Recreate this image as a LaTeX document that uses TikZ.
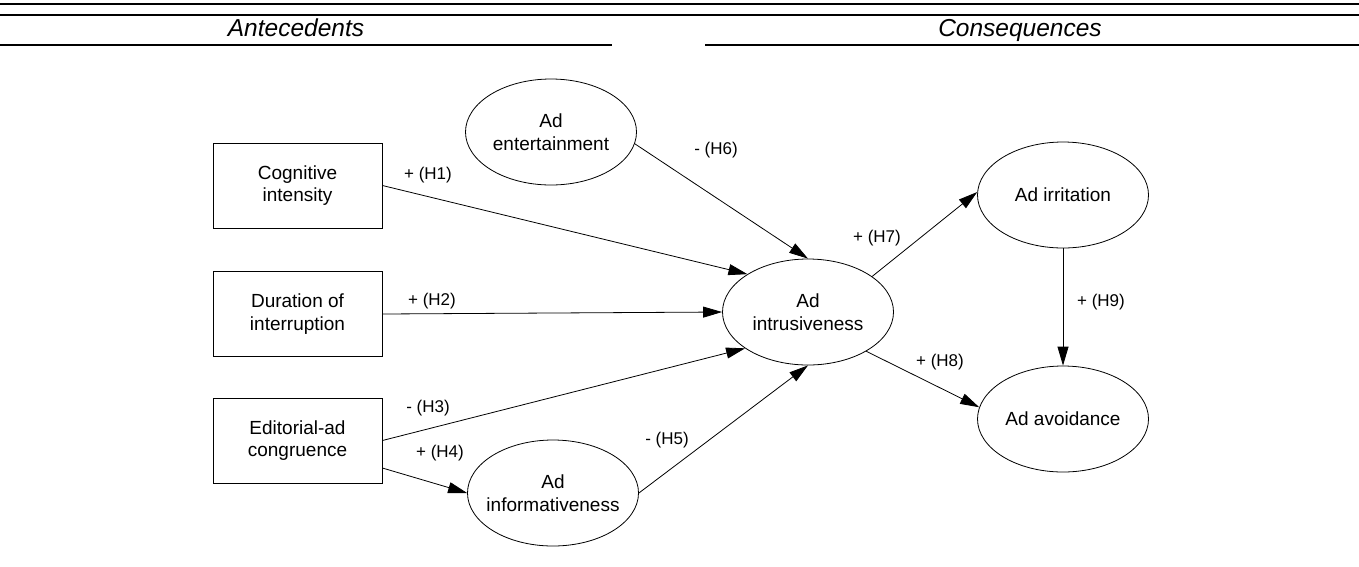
\documentclass[tikz,border=0pt]{standalone}
\usepackage{fontspec}
\setmainfont{Liberation Sans}
\usetikzlibrary{shapes.geometric,arrows.meta}
\begin{document}
\begin{tikzpicture}[x=1pt,y=-1pt,
  box/.style={draw,line width=0.8pt,minimum width=169pt,minimum height=85pt,inner sep=0pt,align=center,font=\fontsize{19}{22.5}\selectfont},
  ell/.style={draw,ellipse,line width=0.8pt,minimum width=171pt,minimum height=106pt,inner xsep=-10pt,inner ysep=0pt,align=center,font=\fontsize{19}{22.5}\selectfont},
  lab/.style={font=\fontsize{17}{20}\selectfont,inner sep=0pt},
  head/.style={font=\fontsize{24.5}{28}\selectfont\itshape,inner sep=0pt,anchor=base},
  arr/.style={line width=0.8pt,-{Triangle[length=19pt,width=11pt]}},
  rulethick/.style={line width=1.8pt},
  rulethin/.style={line width=1.2pt}]
\useasboundingbox (0,0) rectangle (1359,566);

% header rules
\draw[rulethick] (0,4) -- (1359,4);
\draw[rulethick] (0,15) -- (1359,15);
\draw[rulethin] (0,45) -- (612,45);
\draw[rulethin] (705,45) -- (1359,45);
\node[head] (hA) at (296,36) {Antecedents};
\node[head] (hC) at (1020,36) {Consequences};

% boxes
\node[box] (cog)  at (297.5,185.5) {Cognitive\\intensity};
\node[box] (dur)  at (297.5,314)   {Duration of\\interruption};
\node[box] (edit) at (297.5,440.5) {Editorial-ad\\congruence};

% ellipses
\node[ell] (ent)   at (551,132)  {Ad\\entertainment};
\node[ell] (intr)  at (808,312)  {Ad\\intrusiveness};
\node[ell] (info)  at (553,493)  {Ad\\informativeness};
\node[ell] (irr)   at (1063,195) {Ad irritation};
\node[ell] (avoid) at (1063,419) {Ad avoidance};

% connectors
\draw[arr] (cog.east) -- (intr.148.8);
\draw[arr] (dur.east) -- (intr.180);
\draw[arr] (edit.east) -- (intr.210.3);
\draw[arr] ([yshift=-27.5pt]edit.east) -- (info.180);
\draw[arr] (info.0) -- (intr.270);
\draw[arr] (ent.-8) -- (intr.90);
\draw[arr] (intr.29.7) -- (irr.178);
\draw[arr] (intr.-34) -- (avoid.172.6);
\draw[arr] (irr.270) -- (avoid.90);

% labels
\node[lab] (l1) at (428,175) {+ (H1)};
\node[lab] (l2) at (432,301) {+ (H2)};
\node[lab] (l3) at (428,408) {- (H3)};
\node[lab] (l4) at (440,453) {+ (H4)};
\node[lab] (l5) at (667,440) {- (H5)};
\node[lab] (l6) at (716,150) {- (H6)};
\node[lab] (l7) at (877,238) {+ (H7)};
\node[lab] (l8) at (940,362) {+ (H8)};
\node[lab] (l9) at (1101,302) {+ (H9)};
\end{tikzpicture}
\end{document}
